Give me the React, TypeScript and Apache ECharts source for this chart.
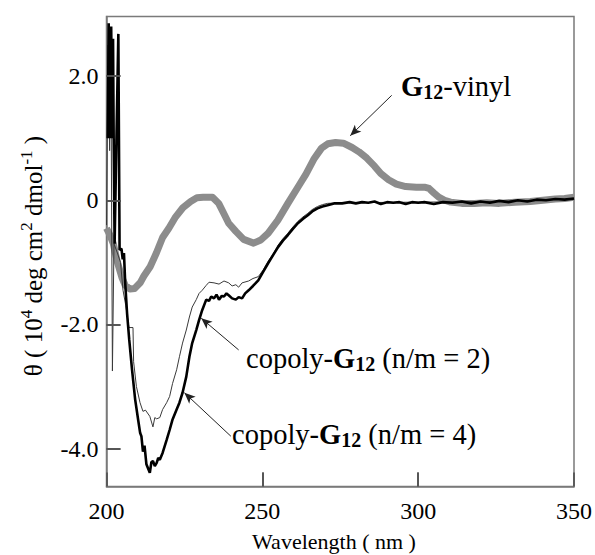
import { useEffect, useRef } from "react";
import * as echarts from "echarts";

const xTickValues = [200, 250, 300, 350];
const yTickValues = [-4, -2, 0, 2];
const yTickLabels = ["-4.0", "-2.0", "0", "2.0"];

const vinylSeries: [number, number][] = [
  [200.0, -0.45], [201.0, -0.55], [202.2, -0.7], [203.5, -1.0], [205.0, -1.25], [206.0, -1.37],
  [207.5, -1.43], [209.0, -1.42], [210.8, -1.33], [212.0, -1.22], [214.0, -1.07], [216.0, -0.85],
  [218.0, -0.6], [220.0, -0.45], [222.0, -0.28], [224.5, -0.12], [227.0, -0.02], [229.0, 0.04],
  [231.0, 0.05], [234.0, 0.05], [236.0, -0.05], [238.0, -0.25], [239.2, -0.37], [241.5, -0.5],
  [244.0, -0.63], [247.2, -0.69], [249.5, -0.64], [251.9, -0.53], [255.0, -0.32], [258.2, -0.05],
  [261.4, 0.21], [264.0, 0.42], [266.5, 0.66], [269.0, 0.84], [271.0, 0.91], [273.5, 0.93],
  [276.0, 0.92], [278.8, 0.85], [281.0, 0.78], [283.5, 0.68], [286.0, 0.55], [288.0, 0.43],
  [290.5, 0.33], [293.0, 0.26], [296.0, 0.22], [299.4, 0.21], [302.0, 0.21], [303.5, 0.19],
  [305.0, 0.12], [306.6, 0.05], [308.5, 0.0], [310.4, -0.03], [314.0, -0.05], [318.0, -0.05],
  [322.0, -0.04], [326.0, -0.05], [331.0, -0.03], [336.0, -0.02], [340.0, 0.0], [344.0, 0.02],
  [347.0, 0.03], [350.0, 0.05],
];

const copoly2Series: [number, number][] = [
  [200.0, -0.4], [200.5, 2.5], [201.0, 0.8], [201.4, 2.4], [201.9, -2.75], [202.4, -0.7],
  [203.5, -0.85], [204.5, -1.0], [205.3, -1.45], [206.2, -1.7], [207.2, -2.05], [208.5, -2.05],
  [208.7, -2.6], [209.6, -3.0], [210.76, -3.26], [211.7, -3.4], [212.5, -3.38], [213.9, -3.48],
  [214.9, -3.65], [215.5, -3.5], [216.1, -3.52], [217.1, -3.5], [218.0, -3.37], [219.3, -3.26],
  [220.25, -3.16], [221.2, -2.95], [222.5, -2.73], [223.4, -2.52], [224.4, -2.3], [225.6, -2.09],
  [226.6, -1.88], [227.5, -1.72], [228.8, -1.6], [229.7, -1.5], [230.7, -1.45], [232.0, -1.37],
  [232.9, -1.32], [234.5, -1.33], [236.1, -1.35], [237.7, -1.3], [239.2, -1.33], [240.3, -1.38],
  [241.5, -1.36], [242.4, -1.4], [243.5, -1.33], [245.6, -1.3], [247.0, -1.26], [248.7, -1.23],
  [250.3, -1.12], [251.9, -0.98], [253.5, -0.86], [255.1, -0.72], [256.6, -0.62], [258.2, -0.53],
  [259.8, -0.43], [261.4, -0.34], [263.0, -0.27], [264.6, -0.21], [266.0, -0.15], [267.7, -0.1],
  [269.3, -0.07], [270.9, -0.05], [275.0, -0.04], [300.0, -0.03], [325.0, -0.02], [350.0, 0.02],
];

const copoly4Series: [number, number][] = [
  [200.4, 1.0], [200.7, 2.85], [201.1, 1.0], [201.5, 2.8], [201.9, 1.0], [202.1, 2.6],
  [202.3, 1.0], [202.6, -0.7], [203.8, 2.68], [204.2, -0.8], [204.8, -0.78], [205.2, -0.95],
  [205.6, -0.85], [206.0, -1.33], [206.6, -1.82], [207.3, -2.25], [208.2, -2.73], [209.2, -3.21],
  [210.2, -3.55], [210.8, -3.75], [211.2, -3.8], [211.7, -4.05], [212.2, -3.95], [212.8, -4.25],
  [213.9, -4.39], [214.4, -4.22], [214.9, -4.2], [215.5, -4.28], [216.1, -4.23], [216.6, -4.15],
  [217.1, -4.18], [218.0, -4.07], [219.3, -3.86], [220.25, -3.7], [221.2, -3.53], [222.5, -3.37],
  [223.4, -3.26], [224.4, -3.1], [225.6, -2.84], [226.6, -2.52], [227.5, -2.3], [228.8, -2.09],
  [229.7, -1.93], [230.7, -1.77], [232.0, -1.6], [232.9, -1.62], [233.6, -1.55], [234.5, -1.58],
  [235.3, -1.52], [236.1, -1.6], [237.0, -1.54], [237.7, -1.55], [238.5, -1.5], [239.2, -1.53],
  [240.3, -1.58], [241.5, -1.6], [242.4, -1.56], [243.5, -1.58], [244.5, -1.5], [245.6, -1.45],
  [247.0, -1.38], [248.7, -1.29], [250.3, -1.15], [251.9, -1.01], [253.5, -0.88], [255.1, -0.75],
  [256.6, -0.65], [258.2, -0.56], [259.8, -0.46], [261.4, -0.37], [263.0, -0.3], [264.6, -0.24],
  [266.0, -0.18], [267.7, -0.13], [269.3, -0.1], [270.9, -0.08], [273.0, -0.05], [275.6, -0.05],
  [278.0, -0.03], [280.0, -0.05], [282.0, -0.03], [284.0, -0.04], [286.0, -0.02], [288.0, -0.06],
  [290.0, -0.03], [292.0, -0.04], [294.0, -0.03], [296.0, -0.06], [298.0, -0.03], [300.0, -0.04],
  [302.0, -0.03], [305.0, -0.06], [308.0, -0.03], [311.0, -0.04], [314.0, -0.02], [317.0, -0.05],
  [320.0, -0.02], [323.0, -0.04], [326.0, -0.01], [329.0, -0.03], [332.0, 0.0], [335.0, -0.02],
  [338.0, 0.01], [341.0, 0.0], [344.0, 0.02], [347.0, 0.01], [350.0, 0.03],
];

const FONT = "'Liberation Serif', 'Times New Roman', serif";
const AXIS_GRAY = "#7a7a7a";
const TICK_GRAY = "#555";

const X_MIN = 200;
const X_MAX = 350;
const Y_MIN = -4.61;
const Y_MAX = 2.96;
const PLOT_W = 473;
const PLOT_H = 470;
const TICK_PX = 14;

export default function App() {
  const ref = useRef<HTMLDivElement>(null);

  useEffect(() => {
    const chart = echarts.init(ref.current!, null, { renderer: "svg" });

    const annRich = {
      n: { fontFamily: FONT, fontSize: 28.5, color: "#000", lineHeight: 32 },
      b: { fontFamily: FONT, fontSize: 28.5, fontWeight: "bold", color: "#000", lineHeight: 32 },
      s: {
        fontFamily: FONT, fontSize: 20, fontWeight: "bold", color: "#000",
        lineHeight: 17, verticalAlign: "bottom",
      },
    };

    const dyTick = (TICK_PX * (Y_MAX - Y_MIN)) / PLOT_H;
    const dxTick = (TICK_PX * (X_MAX - X_MIN)) / PLOT_W;
    const tickLines: any[] = [
      ...xTickValues
        .filter((v) => v > X_MIN && v < X_MAX)
        .map((v) => [{ coord: [v, Y_MIN] }, { coord: [v, Y_MIN + dyTick] }]),
      ...yTickValues.map((v) => [{ coord: [X_MIN, v] }, { coord: [X_MIN + dxTick, v] }]),
    ];

    const option: any = {
      animation: false,
      grid: {
        left: 106.5, top: 16.5, width: PLOT_W, height: PLOT_H,
        show: true, borderColor: AXIS_GRAY, borderWidth: 1.5,
      },
      xAxis: {
        type: "value",
        min: X_MIN, max: X_MAX, interval: 50,
        axisLine: { show: true, onZero: false, lineStyle: { color: AXIS_GRAY, width: 1.5 } },
        axisTick: {
          show: true, inside: true, length: TICK_PX,
          lineStyle: { color: TICK_GRAY, width: 1.8 },
        },
        axisLabel: {
          show: true, margin: 12, color: "#000", fontFamily: FONT, fontSize: 24,
          customValues: xTickValues,
        },
        splitLine: { show: false },
      },
      yAxis: {
        type: "value",
        min: Y_MIN, max: Y_MAX,
        axisLine: { show: true, onZero: false, lineStyle: { color: AXIS_GRAY, width: 1.5 } },
        axisTick: {
          show: true, inside: true, length: TICK_PX, customValues: yTickValues,
          lineStyle: { color: TICK_GRAY, width: 1.8 },
        },
        axisLabel: {
          show: true, margin: 8, color: "#000", fontFamily: FONT, fontSize: 24,
          customValues: yTickValues,
          formatter: (v: number) => {
            const i = yTickValues.findIndex((t) => Math.abs(t - v) < 1e-6);
            return i >= 0 ? yTickLabels[i] : "";
          },
        },
        splitLine: { show: false },
      },
      series: [
        {
          name: "G12-vinyl",
          type: "line",
          data: vinylSeries,
          showSymbol: false,
          symbol: "none",
          lineStyle: { color: "#8c8c8c", width: 7, join: "round" },
          z: 2,
          markLine: {
            silent: true,
            symbol: ["none", "none"],
            label: { show: false },
            lineStyle: { color: TICK_GRAY, width: 1.8, type: "solid" },
            data: tickLines,
          },
        },
        {
          name: "copoly-G12 (n/m = 2)",
          type: "line",
          data: copoly2Series,
          showSymbol: false,
          symbol: "none",
          lineStyle: { color: "#3a3a3a", width: 1 },
          z: 3,
          markLine: {
            silent: true,
            symbol: ["none", "arrow"],
            symbolSize: [7, 11],
            label: { show: false },
            lineStyle: { color: "#222", width: 1, type: "solid" },
            data: [
              [{ coord: [291.5, 1.69] }, { coord: [278.2, 1.04] }],
              [{ coord: [242.4, -2.41] }, { coord: [230.4, -1.9] }],
              [{ coord: [239.9, -3.8] }, { coord: [225.0, -3.1] }],
            ],
          },
        },
        {
          name: "copoly-G12 (n/m = 4)",
          type: "line",
          data: copoly4Series,
          showSymbol: false,
          symbol: "none",
          lineStyle: { color: "#000", width: 2.6 },
          z: 4,
        },
      ],
      graphic: [
        {
          type: "text",
          x: 33, y: 256,
          rotation: Math.PI / 2,
          style: {
            text: "{n|θ ( 10}{p|4}{n| deg cm}{p|2}{n| dmol}{p|-1}{n| )}",
            align: "center",
            verticalAlign: "middle",
            rich: {
              n: { fontFamily: FONT, fontSize: 25, color: "#000", lineHeight: 30 },
              p: { fontFamily: FONT, fontSize: 17, color: "#000", lineHeight: 14, verticalAlign: "top" },
            },
          },
        },
        {
          type: "text",
          x: 334, y: 541,
          style: {
            text: "Wavelength ( nm )",
            fontFamily: FONT, fontSize: 22, fill: "#000",
            align: "center", verticalAlign: "middle",
          },
        },
        {
          type: "text",
          x: 401, y: 86,
          style: {
            text: "{b|G}{s|12}{n|-vinyl}",
            align: "left", verticalAlign: "middle",
            rich: annRich,
          },
        },
        {
          type: "text",
          x: 246, y: 358,
          style: {
            text: "{n|copoly-}{b|G}{s|12}{n| (n/m = 2)}",
            align: "left", verticalAlign: "middle",
            rich: annRich,
          },
        },
        {
          type: "text",
          x: 232, y: 434,
          style: {
            text: "{n|copoly-}{b|G}{s|12}{n| (n/m = 4)}",
            align: "left", verticalAlign: "middle",
            rich: annRich,
          },
        },
      ],
    };

    chart.setOption(option);
    return () => chart.dispose();
  }, []);

  return (
    <div
      ref={ref}
      style={{ position: "fixed", left: 0, top: 0, width: 595, height: 555, background: "#fff" }}
    />
  );
}
